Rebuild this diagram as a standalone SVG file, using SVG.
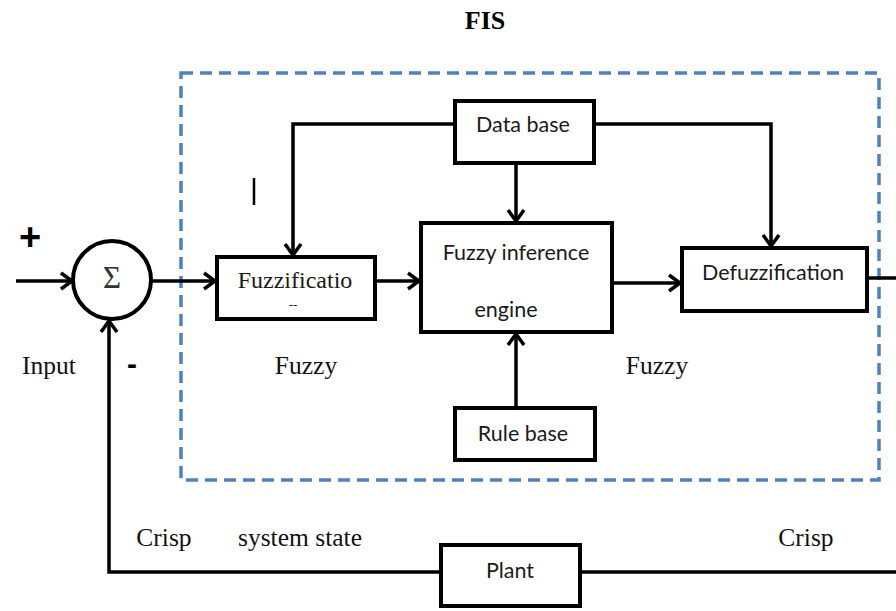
<svg xmlns="http://www.w3.org/2000/svg" width="896" height="611" viewBox="0 0 896 611">
  <defs>
    <marker id="arrow" markerUnits="userSpaceOnUse" markerWidth="24" markerHeight="24" viewBox="-12 -12 24 24" refX="0" refY="0" orient="auto">
      <path d="M-11,-8 L0,0 L-11,8" fill="none" stroke="#000" stroke-width="3.5" stroke-linejoin="miter"/>
    </marker>
  </defs>
  <style>
    .box { fill: #fff; stroke: #000; stroke-width: 4; }
    .wire { fill: none; stroke: #000; stroke-width: 3.5; }
    .sans { font-family: Lato, "Liberation Sans", sans-serif; font-size: 21.5px; fill: #1a1a1a; }
    .serif { font-family: "Liberation Serif", serif; font-size: 25.5px; fill: #111; }
    .frame { fill: none; stroke: #4f81bd; stroke-width: 3.5; stroke-dasharray: 12 7; }
  </style>

  <rect width="896" height="611" fill="#fff"/>

  <!-- FIS boundary -->
  <rect class="frame" x="181" y="73" width="698" height="407"/>
  <text x="485" y="29" text-anchor="middle" font-family="Liberation Serif, serif" font-weight="bold" font-size="26">FIS</text>

  <!-- connectors -->
  <g id="connectors">
    <line class="wire" x1="16" y1="281" x2="72" y2="281" marker-end="url(#arrow)"/>
    <line class="wire" x1="152" y1="281" x2="215" y2="281" marker-end="url(#arrow)"/>
    <line class="wire" x1="377" y1="281" x2="419" y2="281" marker-end="url(#arrow)"/>
    <line class="wire" x1="614" y1="283" x2="680" y2="283" marker-end="url(#arrow)"/>
    <line class="wire" x1="516" y1="163" x2="516" y2="221" marker-end="url(#arrow)"/>
    <line class="wire" x1="516" y1="408" x2="516" y2="334" marker-end="url(#arrow)"/>
    <polyline class="wire" points="455,124 293,124 293,255" marker-end="url(#arrow)"/>
    <polyline class="wire" points="594,124 771,124 771,246" marker-end="url(#arrow)"/>
    <line class="wire" x1="868" y1="278" x2="896" y2="278"/>
    <line class="wire" x1="582" y1="572" x2="896" y2="572"/>
    <polyline class="wire" points="440,572 109,572 109,321" marker-end="url(#arrow)"/>
  </g>

  <!-- summing junction -->
  <g id="sum">
    <circle cx="112" cy="280" r="39" fill="#fff" stroke="#000" stroke-width="4"/>
    <text x="112" y="288" text-anchor="middle" font-family="Liberation Serif, serif" font-size="31" fill="#333">Σ</text>
  </g>
  <text x="30" y="250" text-anchor="middle" font-family="Liberation Sans, sans-serif" font-weight="bold" font-size="38">+</text>
  <text x="132" y="374" text-anchor="middle" font-family="Liberation Sans, sans-serif" font-weight="bold" font-size="30">-</text>
  <line x1="254" y1="178" x2="254" y2="205" stroke="#000" stroke-width="2.5"/>

  <g id="fuzzification">
    <rect class="box" x="217" y="257" width="158" height="62"/>
    <text x="295" y="288" text-anchor="middle" font-family="Liberation Serif, serif" font-size="24" fill="#1a1a1a">Fuzzificatio</text>
    <text x="293" y="309" text-anchor="middle" font-family="Liberation Serif, serif" font-size="13" fill="#1a1a1a">--</text>
  </g>

  <g id="inference">
    <rect class="box" x="421" y="223" width="191" height="109"/>
    <text x="516" y="260" text-anchor="middle" class="sans">Fuzzy inference</text>
    <text x="506" y="317" text-anchor="middle" class="sans">engine</text>
  </g>

  <g id="database">
    <rect class="box" x="455" y="101" width="139" height="62"/>
    <text x="523" y="132" text-anchor="middle" class="sans">Data base</text>
  </g>

  <g id="defuzzification">
    <rect class="box" x="682" y="248" width="185" height="63"/>
    <text x="773" y="280" text-anchor="middle" class="sans">Defuzzification</text>
  </g>

  <g id="rulebase">
    <rect class="box" x="455" y="408" width="140" height="52"/>
    <text x="523" y="441" text-anchor="middle" class="sans">Rule base</text>
  </g>

  <g id="plant">
    <rect class="box" x="441" y="545" width="139" height="61"/>
    <text x="510" y="578" text-anchor="middle" class="sans">Plant</text>
  </g>

  <!-- signal labels -->
  <text x="49" y="374" text-anchor="middle" class="serif">Input</text>
  <text x="306" y="374" text-anchor="middle" class="serif">Fuzzy</text>
  <text x="657" y="374" text-anchor="middle" class="serif">Fuzzy</text>
  <text x="164" y="546" text-anchor="middle" class="serif">Crisp</text>
  <text x="300" y="546" text-anchor="middle" class="serif">system state</text>
  <text x="806" y="546" text-anchor="middle" class="serif">Crisp</text>
</svg>
